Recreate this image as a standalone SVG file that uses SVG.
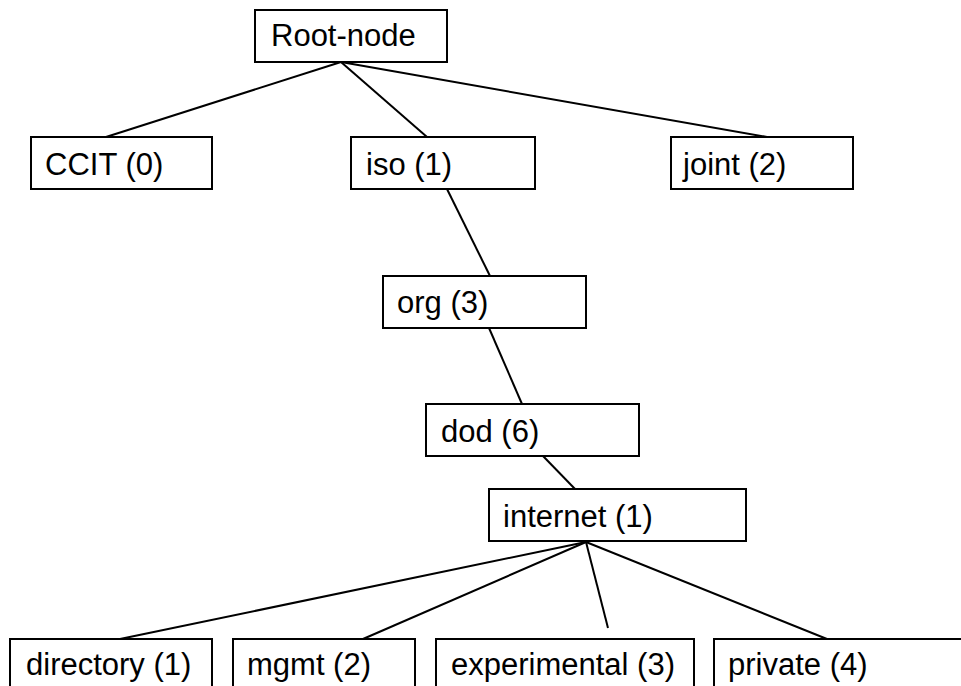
<svg xmlns="http://www.w3.org/2000/svg" width="961" height="686" viewBox="0 0 961 686">
<style>
.box{fill:#fff;stroke:#000;stroke-width:2}
.lbl{font-family:"Liberation Sans",Arial,sans-serif;font-size:31px;fill:#000}
.edge{stroke:#000;stroke-width:2;fill:none}
</style>
<rect width="961" height="686" fill="#fff"/>
<g id="connectors">
<line class="edge" x1="341" y1="62" x2="106" y2="137"/>
<line class="edge" x1="341" y1="62" x2="427" y2="137"/>
<line class="edge" x1="341" y1="62" x2="767" y2="137"/>
<line class="edge" x1="447" y1="189" x2="490" y2="276"/>
<line class="edge" x1="489" y1="328" x2="522" y2="404"/>
<line class="edge" x1="543" y1="456" x2="575" y2="489"/>
<line class="edge" x1="586" y1="542" x2="120" y2="639"/>
<line class="edge" x1="586" y1="542" x2="363" y2="639"/>
<line class="edge" x1="586" y1="542" x2="608" y2="628"/>
<line class="edge" x1="586" y1="542" x2="827" y2="639"/>
</g>
<g id="root"><rect class="box" x="255" y="10" width="192" height="52"/><text class="lbl" x="271" y="46">Root-node</text></g>
<g id="ccit"><rect class="box" x="31" y="137" width="181" height="52"/><text class="lbl" x="45" y="175">CCIT (0)</text></g>
<g id="iso"><rect class="box" x="351" y="137" width="184" height="52"/><text class="lbl" x="366" y="175">iso (1)</text></g>
<g id="joint"><rect class="box" x="671" y="137" width="182" height="52"/><text class="lbl" x="683" y="175">joint (2)</text></g>
<g id="org"><rect class="box" x="383" y="276" width="203" height="52"/><text class="lbl" x="397" y="313">org (3)</text></g>
<g id="dod"><rect class="box" x="426" y="404" width="213" height="52"/><text class="lbl" x="441" y="442">dod (6)</text></g>
<g id="internet"><rect class="box" x="489" y="489" width="257" height="52"/><text class="lbl" x="503" y="527">internet (1)</text></g>
<g id="directory"><rect class="box" x="10" y="639" width="202" height="60"/><text class="lbl" x="26" y="675">directory (1)</text></g>
<g id="mgmt"><rect class="box" x="233" y="639" width="182" height="60"/><text class="lbl" x="247" y="675">mgmt (2)</text></g>
<g id="experimental"><rect class="box" x="436" y="639" width="258" height="60"/><text class="lbl" x="451" y="675">experimental (3)</text></g>
<g id="private"><rect class="box" x="714" y="639" width="260" height="60"/><text class="lbl" x="728" y="675">private (4)</text></g>
</svg>
